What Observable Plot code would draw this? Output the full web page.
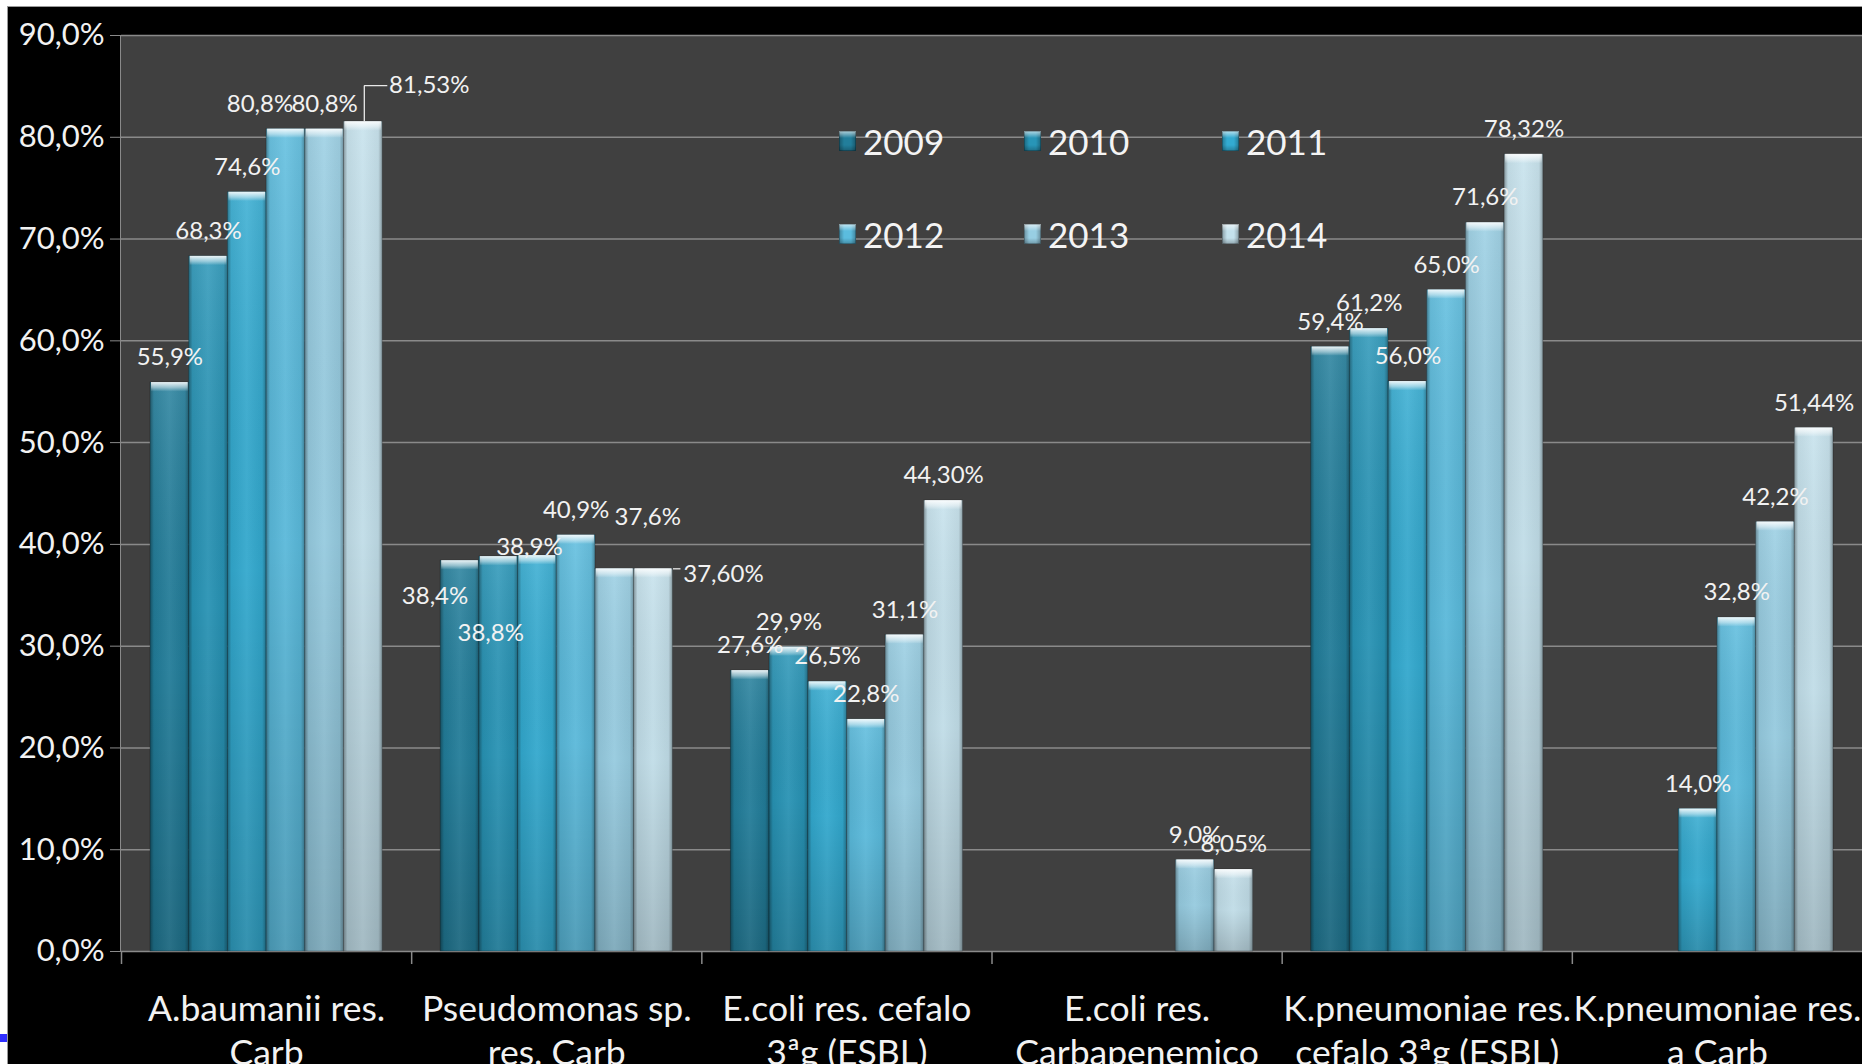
<!DOCTYPE html>
<html>
<head>
<meta charset="utf-8">
<script src="https://cdn.jsdelivr.net/npm/d3@7"></script>
<script src="https://cdn.jsdelivr.net/npm/@observablehq/plot@0.6"></script>
<style>
  html, body { margin: 0; padding: 0; background: #ffffff; }
  #wrap { position: relative; width: 1862px; height: 1064px; overflow: hidden; font-family: Lato, "Noto Sans", sans-serif; }
  #bg { position: absolute; left: 7px; top: 6px; right: 0; bottom: 0; background: #000; border-left: 1.5px solid #9a9a9a; border-top: 1.5px solid #9a9a9a; }
  #blue { position: absolute; left: 0; top: 1034px; width: 7px; height: 8px; background: #2f2fff; }
  #panel { position: absolute; background: #404040; box-sizing: border-box; border-left: 1.5px solid #8a8a8a; }
  #chart { position: absolute; left: 0; top: 0; }
  .lg { position: absolute; display: flex; align-items: center; height: 30px; color: #f4f4f4; font-size: 35px; line-height: 30px; }
  .sw { width: 17px; height: 20px; margin-right: 7px; box-shadow: inset 0 0 0 1px rgba(0,0,0,0.25); }
</style>
</head>
<body>
<div id="wrap">
  <div id="bg"></div>
  <div id="blue"></div>
  <div id="panel"></div>
  <div id="chart"></div>
</div>
<script>
// ---------------- data ----------------
const categories = [
  "A.baumanii res.\nCarb",
  "Pseudomonas sp.\nres. Carb",
  "E.coli res. cefalo\n3ªg (ESBL)",
  "E.coli res.\nCarbapenemico",
  "K.pneumoniae res.\ncefalo 3ªg (ESBL)",
  "K.pneumoniae res.\na Carb"
];
const years = ["2009", "2010", "2011", "2012", "2013", "2014"];
const v2009 = [55.9, 38.4, 27.6, null, 59.4, null];
const v2010 = [68.3, 38.8, 29.9, null, 61.2, null];
const v2011 = [74.6, 38.9, 26.5, null, 56.0, 14.0];
const v2012 = [80.8, 40.9, 22.8, null, 65.0, 32.8];
const v2013 = [80.8, 37.6, 31.1, 9.0, 71.6, 42.2];
const v2014 = [81.53, 37.60, 44.30, 8.05, 78.32, 51.44];
const yTicks = [0, 10, 20, 30, 40, 50, 60, 70, 80, 90];
const yearColors = ["#227e9b", "#2895b7", "#33abd1", "#5bbcde", "#98cee3", "#c4e1ec"];

// ---------------- layout (label placement tweaks, px) ----------------
const labelNudge = {
  "0|2012": [-26, 0],
  "0|2014": [66, -11],
  "1|2009": [-25, 61],
  "1|2010": [-8, 102],
  "1|2011": [-8, 17],
  "1|2013": [33, -27],
  "1|2014": [70, 30]
};
const leaderLayout = {
  "0|2014": [1, 0, 24, -36],
  "1|2014": [19.5, 0, 27, 0]
};

// ---------------- build table ----------------
const series = [v2009, v2010, v2011, v2012, v2013, v2014];
const rows = [];
years.forEach((yr, j) => series[j].forEach((v, i) => {
  if (v != null) rows.push({cat: categories[i], ci: i, year: yr, value: v});
}));
const keyOf = d => `${d.ci}|${d.year}`;
const fmtLabel = d => d.value.toFixed(d.year === "2014" ? 2 : 1).replace(".", ",") + "%";

const W = 1862, H = 1064, ML = 121, MR = 0, MT = 35, MB = 113;
const PAD_OUTER = 0.75;                       // group gap, in bar widths, on each side
const bandW = (W - ML - MR) / categories.length;
const step = bandW / (years.length + 2 * PAD_OUTER);
const barInset = (bandW - step) / 2;
const dxOf = j => (j - (years.length - 1) / 2) * step;   // dodge of each year within its group

// plot-area background panel (sits behind the transparent SVG)
const panel = document.getElementById("panel");
panel.style.left = (ML - 0.75) + "px";
panel.style.top = MT + "px";
panel.style.width = (W - ML - MR + 0.75) + "px";
panel.style.height = (H - MT - MB) + "px";

function makeTextNudge(data) {
  return function (index, scales, values, dimensions, context, next) {
    const X = Float64Array.from(values.x), Y = Float64Array.from(values.y);
    for (const i of index) {
      const n = labelNudge[keyOf(data[i])];
      if (n) { X[i] += n[0]; Y[i] += n[1]; }
    }
    return next(index, scales, {...values, x: X, y: Y}, dimensions, context);
  };
}
function makeLinkNudge(data) {
  return function (index, scales, values, dimensions, context, next) {
    const X1 = Float64Array.from(values.x1), Y1 = Float64Array.from(values.y1);
    const X2 = Float64Array.from(values.x2), Y2 = Float64Array.from(values.y2);
    for (const i of index) {
      const L = leaderLayout[keyOf(data[i])];
      if (L) { X1[i] += L[0]; Y1[i] += L[1]; X2[i] += L[2]; Y2[i] += L[3]; }
    }
    return next(index, scales, {...values, x1: X1, y1: Y1, x2: X2, y2: Y2}, dimensions, context);
  };
}

const gridColor = "#8a8a8a";
const textColor = "#f2f2f2";

const byYear = years.map(yr => rows.filter(r => r.year === yr));

const barMarks = byYear.flatMap((d, j) => {
  const common = {x: "cat", dx: dxOf(j), insetLeft: barInset, insetRight: barInset};
  return [
    Plot.barY(d, {...common, y: "value", fill: "year"}),
    Plot.barY(d, {...common, y: "value", fill: "url(#shadeV)"}),
    Plot.barY(d, {...common, y: "value", fill: "url(#shadeH)", stroke: "rgba(0,0,0,0.3)", strokeWidth: 0.8}),
    Plot.barY(d, {x: "cat", dx: dxOf(j), insetLeft: barInset + 1, insetRight: barInset + 1,
      y1: "value", y2: "value", insetBottom: -9, fill: "url(#cap)"})
  ];
});
const leaderMarks = byYear.map((d, j) => {
  const ld = d.filter(r => leaderLayout[keyOf(r)]);
  return Plot.link(ld, {x1: "cat", x2: "cat", y1: "value", y2: "value", dx: dxOf(j), curve: "step-before",
    stroke: "#e8e8e8", strokeWidth: 1.3, render: makeLinkNudge(ld)});
});
const labelMarks = byYear.map((d, j) =>
  Plot.text(d, {x: "cat", y: "value", dx: dxOf(j), dy: -25, text: fmtLabel, fill: textColor, fontSize: 24,
    lineAnchor: "middle", render: makeTextNudge(d)}));

const plot = Plot.plot({
  width: W, height: H,
  marginLeft: ML, marginRight: MR, marginTop: MT, marginBottom: MB,
  style: {background: "transparent", color: textColor, fontFamily: "Lato, 'Noto Sans', sans-serif"},
  x: {domain: categories, padding: 0, round: false},
  y: {domain: [0, 90]},
  color: {domain: years, range: yearColors},
  marks: [
    Plot.gridY({ticks: yTicks, stroke: gridColor, strokeOpacity: 1, strokeWidth: 1.5}),
    Plot.axisY({ticks: yTicks, tickSize: 11, tickPadding: 6, fontSize: 31, stroke: gridColor, fill: textColor,
      tickFormat: d => d.toFixed(1).replace(".", ",") + "%", label: null}),
    // category boundary ticks below the baseline
    Plot.ruleX(categories, {x: d => d, dx: -bandW / 2, y1: () => 0, y2: () => 0, insetBottom: -13,
      stroke: gridColor, strokeWidth: 1.5}),
    Plot.axisX({anchor: "bottom", tickSize: 0, tickPadding: 38, fontSize: 35.5, lineHeight: 1.24, fill: textColor, label: null}),
    ...barMarks,
    ...leaderMarks,
    ...labelMarks
  ]
});

const svgEl = plot.tagName.toLowerCase() === "svg" ? plot : plot.querySelector("svg");
d3.select(svgEl).insert("defs", ":first-child").html(`
  <linearGradient id="shadeV" x1="0" y1="0" x2="0" y2="1">
    <stop offset="0" stop-color="#ffffff" stop-opacity="0.10"/>
    <stop offset="0.5" stop-color="#000000" stop-opacity="0.02"/>
    <stop offset="1" stop-color="#000000" stop-opacity="0.18"/>
  </linearGradient>
  <linearGradient id="shadeH" x1="0" y1="0" x2="1" y2="0">
    <stop offset="0" stop-color="#000000" stop-opacity="0.35"/>
    <stop offset="0.1" stop-color="#000000" stop-opacity="0.05"/>
    <stop offset="0.5" stop-color="#ffffff" stop-opacity="0.06"/>
    <stop offset="0.9" stop-color="#000000" stop-opacity="0.05"/>
    <stop offset="1" stop-color="#000000" stop-opacity="0.3"/>
  </linearGradient>
  <linearGradient id="cap" x1="0" y1="0" x2="0" y2="1">
    <stop offset="0" stop-color="#ffffff" stop-opacity="0.9"/>
    <stop offset="0.6" stop-color="#ffffff" stop-opacity="0.45"/>
    <stop offset="1" stop-color="#ffffff" stop-opacity="0.05"/>
  </linearGradient>`);
document.getElementById("chart").appendChild(plot);

// ---------------- legend (HTML) ----------------
const legendCols = [839, 1024, 1222];
const legendRows = [126, 219];
const wrap = document.getElementById("wrap");
years.forEach((yr, j) => {
  const item = document.createElement("div");
  item.className = "lg";
  item.style.left = legendCols[j % 3] + "px";
  item.style.top = legendRows[Math.floor(j / 3)] + "px";
  const sw = document.createElement("div");
  sw.className = "sw";
  sw.style.background = `linear-gradient(180deg, rgba(255,255,255,0.65) 0%, rgba(255,255,255,0) 35%, rgba(0,0,0,0) 70%, rgba(0,0,0,0.25) 100%), linear-gradient(90deg, rgba(0,0,0,0.3), rgba(0,0,0,0) 30%, rgba(0,0,0,0) 70%, rgba(0,0,0,0.3)), ${yearColors[j]}`;
  const tx = document.createElement("span");
  tx.textContent = yr;
  item.appendChild(sw);
  item.appendChild(tx);
  wrap.appendChild(item);
});
</script>
</body>
</html>
